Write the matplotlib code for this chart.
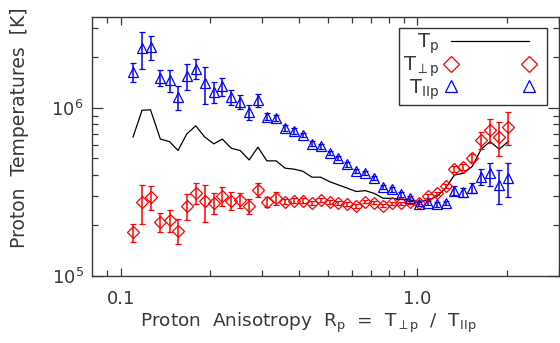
import numpy as np
import matplotlib
matplotlib.use("Agg")
import matplotlib.pyplot as plt
from matplotlib.lines import Line2D
from matplotlib.ticker import FixedLocator, FixedFormatter, LogLocator, NullFormatter

# anisotropy bins
aniso = [0.110, 0.118, 0.126, 0.136, 0.146, 0.156, 0.167, 0.179, 0.192, 0.206,
         0.220, 0.236, 0.253, 0.271, 0.290, 0.311, 0.334, 0.358, 0.384, 0.411,
         0.441, 0.472, 0.506, 0.542, 0.581, 0.622, 0.667, 0.715, 0.767, 0.822,
         0.881, 0.944, 1.012, 1.084, 1.161, 1.245, 1.334, 1.429, 1.531, 1.641,
         1.758, 1.888, 2.023]

# total proton temperature [1e5 K]
t_p = [6.71, 9.68, 9.73, 6.52, 6.30, 5.58, 7.00, 7.82, 6.70, 6.11,
       6.52, 5.75, 5.57, 4.90, 5.84, 4.84, 4.84, 4.38, 4.32, 4.20,
       3.87, 3.87, 3.64, 3.48, 3.33, 3.18, 3.22, 3.10, 2.90, 2.90,
       2.86, 2.83, 2.77, 2.83, 2.96, 3.33, 3.99, 4.08, 4.48, 5.68,
       6.30, 5.68, 6.30]

# perpendicular temperature [1e5 K] and error
t_perp = [1.82, 2.77, 2.96, 2.10, 2.15, 1.86, 2.62, 3.13, 2.79, 2.72,
          3.01, 2.81, 2.83, 2.61, 3.25, 2.77, 2.90, 2.77, 2.81, 2.81,
          2.71, 2.83, 2.77, 2.73, 2.68, 2.62, 2.77, 2.73, 2.62, 2.71,
          2.71, 2.75, 2.73, 2.99, 3.10, 3.43, 4.32, 4.44, 5.02, 6.45,
          7.40, 6.70, 7.74]
t_perp_err = [0.23, 0.72, 0.48, 0.27, 0.33, 0.32, 0.47, 0.44, 0.70, 0.38,
              0.39, 0.33, 0.28, 0.26, 0.31, 0.18, 0.26, 0.10, 0.09, 0.09,
              0.08, 0.08, 0.08, 0.07, 0.07, 0.07, 0.07, 0.06, 0.06, 0.06,
              0.06, 0.06, 0.06, 0.07, 0.08, 0.10, 0.18, 0.19, 0.28, 0.77,
              1.18, 1.55, 1.70]

# parallel temperature [1e5 K] and error
t_par = [16.4, 22.7, 23.0, 15.1, 14.6, 11.6, 15.5, 17.1, 14.0, 12.5,
         13.4, 11.6, 10.9, 9.43, 11.1, 8.87, 8.68, 7.57, 7.29, 6.90,
         6.11, 5.90, 5.37, 5.02, 4.62, 4.22, 4.12, 3.82, 3.40, 3.28,
         3.06, 2.90, 2.68, 2.73, 2.67, 2.73, 3.22, 3.15, 3.33, 3.90,
         4.08, 3.48, 3.82]
t_par_err = [2.1, 5.7, 3.7, 1.7, 2.1, 1.9, 2.8, 2.3, 3.5, 1.8,
             1.7, 1.2, 1.0, 1.0, 1.0, 0.40, 0.37, 0.30, 0.30, 0.22,
             0.20, 0.18, 0.16, 0.15, 0.14, 0.13, 0.12, 0.11, 0.10, 0.10,
             0.09, 0.09, 0.08, 0.08, 0.08, 0.08, 0.20, 0.20, 0.23, 0.43,
             0.63, 0.81, 0.87]

x = np.array(aniso)
tp = np.array(t_p) * 1e5
tperp = np.array(t_perp) * 1e5
tperp_e = np.array(t_perp_err) * 1e5
tpar = np.array(t_par) * 1e5
tpar_e = np.array(t_par_err) * 1e5

plt.rcParams['font.family'] = 'DejaVu Sans'
plt.rcParams['mathtext.default'] = 'regular'
txt = '#383838'

fig = plt.figure(figsize=(5.6, 3.43), dpi=100)
ax = fig.add_axes([0.1643, 0.1953, 0.998 - 0.1643, 0.9504 - 0.1953])

ax.plot(x, tp, color='black', lw=0.9)
ax.errorbar(x, tperp, yerr=tperp_e, fmt='D', ms=6.5, mfc='none', mec='red',
            mew=0.9, ecolor='red', elinewidth=1.1, capsize=2, capthick=1.1)
ax.errorbar(x, tpar, yerr=tpar_e, fmt='^', ms=7.5, mfc='none', mec='blue',
            mew=0.9, ecolor='blue', elinewidth=1.1, capsize=2, capthick=1.1)

ax.set_xscale('log')
ax.set_yscale('log')
ax.set_xlim(0.08, 3.0)
ax.set_ylim(1e5, 3.47e6)

ax.xaxis.set_major_locator(FixedLocator([0.1, 1.0]))
ax.xaxis.set_major_formatter(FixedFormatter(['0.1', '1.0']))
ax.xaxis.set_minor_locator(FixedLocator([0.09, 0.2, 0.3, 0.4, 0.5, 0.6, 0.7,
                                         0.8, 0.9, 2.0, 3.0]))
ax.xaxis.set_minor_formatter(NullFormatter())
ax.yaxis.set_major_locator(FixedLocator([1e5, 1e6]))
ax.yaxis.set_major_formatter(FixedFormatter([r'10$^5$', r'10$^6$']))
ax.yaxis.set_minor_locator(LogLocator(base=10, subs=np.arange(2, 10)))
ax.yaxis.set_minor_formatter(NullFormatter())

ax.tick_params(which='both', direction='in', top=True, right=True,
               colors=txt, labelsize=13, width=0.9)
ax.tick_params(axis='y', which='major', length=8, pad=6)
ax.tick_params(axis='y', which='minor', length=4.5)
ax.tick_params(axis='x', which='major', length=6, pad=10)
ax.tick_params(axis='x', which='minor', length=4)
for s in ax.spines.values():
    s.set_color(txt)
    s.set_linewidth(1.0)

ax.set_xlabel(r'Proton  Anisotropy  R$_{p}$  =  T$_{\perp p}$  /  T$_{IIp}$',
              fontsize=13.3, color=txt)
ax.xaxis.set_label_coords(0.4636, -0.135)
ax.set_ylabel('Proton  Temperatures  [K]', fontsize=13.5, color=txt)
ax.yaxis.set_label_coords(-0.135, 0.573)

handles = [
    Line2D([], [], color='black', lw=0.9),
    Line2D([], [], ls='none', marker='D', ms=8, mfc='none', mec='red', mew=0.9),
    Line2D([], [], ls='none', marker='^', ms=9, mfc='none', mec='blue', mew=0.9),
]
labels = [r'T$_{p}$', r'T$_{\perp p}$', r'T$_{IIp}$']
leg = ax.legend(handles, labels, loc='upper left',
                bbox_to_anchor=(0.657, 0.5, 0.317, 0.4575), mode='expand',
                borderaxespad=0, numpoints=2, markerfirst=False,
                fancybox=False, framealpha=1, edgecolor='#333333',
                fontsize=14, handlelength=4.6, handletextpad=0.3,
                labelspacing=-0.1, borderpad=0.2)
leg.get_frame().set_linewidth(1.0)
for t in leg.get_texts():
    t.set_color(txt)

fig.savefig('out.png', dpi=100)
